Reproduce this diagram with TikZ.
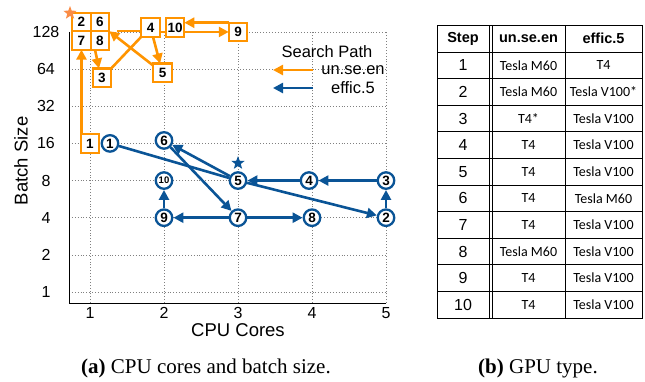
\documentclass[tikz,border=0pt]{standalone}
\usepackage{fontspec}
\setmainfont{Liberation Serif}
\setsansfont{Liberation Sans}
\newfontfamily\gpufont{Carlito}
\usetikzlibrary{arrows.meta,positioning,calc,shapes.geometric}
\definecolor{searchorange}{RGB}{255,148,0}
\definecolor{searchblue}{RGB}{10,84,150}
\definecolor{starorange}{RGB}{250,140,70}
\newcommand{\pxfont}[1]{\fontsize{#1bp}{#1bp}\selectfont}

\begin{document}
\begin{tikzpicture}[
  x=1bp, y=-1bp,
  font=\sffamily,
  gridline/.style={draw=gray, line width=0.7bp, dash pattern=on 0.9bp off 2bp},
  axisline/.style={draw=black, line width=0.9bp},
  ticklabel/.style={font=\sffamily\pxfont{16}},
  axislabel/.style={font=\sffamily\pxfont{18.5}},
  obox/.style={draw=searchorange, line width=2.3bp, fill=white, minimum size=18.5bp,
    inner sep=0pt, outer sep=0pt, font=\sffamily\bfseries\pxfont{13.5}},
  bnode/.style={circle, draw=searchblue, line width=2.3bp, fill=white, minimum size=16.5bp,
    inner sep=0pt, font=\sffamily\bfseries\pxfont{13.5}},
  opath/.style={draw=searchorange, line width=2.6bp},
  oarrow/.style={opath, -{Triangle[length=10bp, width=10bp]}},
  bpath/.style={draw=searchblue, line width=2.6bp},
  barrow/.style={bpath, -{Triangle[length=10bp, width=10bp]}},
  beststar/.style={star, star points=5, star point ratio=2.4, minimum size=14bp, inner sep=0pt},
  legendtext/.style={font=\sffamily\pxfont{16.5}},
  tablerule/.style={draw=black, line width=0.9bp},
  headcell/.style={font=\sffamily\bfseries\pxfont{14.5}},
  stepcell/.style={font=\sffamily\pxfont{16}},
  gpucell/.style={font=\gpufont\pxfont{14}},
  captiontext/.style={font=\rmfamily\pxfont{21}, anchor=base}
]
\useasboundingbox (0,0) rectangle (645,381);

% (a) search paths over cores and batch size
\begin{scope}[shift={(16,292)}, x=74bp, y=37.15bp]
\foreach \c in {1,...,5}
  \draw[gridline] (\c,-0.296) -- (\c,7);
\foreach \v in {0,...,7}
  \draw[gridline] (0.716,\v) -- (5,\v);
\draw[axisline] (0.716,7) -- (0.716,-0.296) -- (5,-0.296);

\foreach \c in {1,...,5}
  \node[ticklabel] (xtick\c) at (\c,-0.565) {\c};
\foreach \v/\lab in {0/1,1/2,2/4,3/8,4/16,5/32,6/64,7/128}
  \node[ticklabel] (ytick\v) at (0.405,\v) {\lab};
\node[axislabel] (xlabel) at (3,-1.02) {CPU Cores};
\node[axislabel, rotate=90] (ylabel) at (0.068,3.53) {Batch Size};

% un.se.en
\node[obox] (un2) at (0.885,7.27) {2};
\node[obox, right=0bp of un2] (un6) {6};
\node[obox, below=0bp of un2] (un7) {7};
\node[obox, below=0bp of un6] (un8) {8};
\node[obox] (un1) at (1,4) {1};
\node[obox] (un3) at (1.162,5.77) {3};
\node[obox] (un4) at (1.818,7.12) {4};
\node[obox, right=6bp of un4] (un10) {10};
\node[obox] (un5) at (1.98,5.9) {5};
\node[obox] (un9) at (3,7) {9};
\node[beststar, fill=starorange] (unstar) at (0.73,7.51) {};

% effic.5
\node[bnode] (ef1) at (1.27,4) {1};
\node[bnode] (ef2) at (5,2) {2};
\node[bnode] (ef3) at (5,3) {3};
\node[bnode] (ef4) at (3.96,3) {4};
\node[bnode] (ef5) at (3,3) {5};
\node[bnode] (ef6) at (2,4.08) {6};
\node[bnode] (ef7) at (3,2) {7};
\node[bnode] (ef8) at (4,2) {8};
\node[bnode] (ef9) at (2,2) {9};
\node[bnode, font=\sffamily\bfseries\pxfont{9.5}] (ef10) at (2,3) {10};
\node[beststar, fill=searchblue] (efstar) at (3,3.47) {};
\end{scope}

\draw[oarrow] (un7.south |- un1.north) -- (un7.south);
\draw[oarrow] ([xshift=-5bp]un8.south) -- ([xshift=-3bp]un3.north);
\draw[opath] (un3.north east) -- (un4.south west);
\draw[oarrow] (un4) -- (un5);
\draw[oarrow] (un5) -- (un6.south east);
\draw[opath] ([xshift=8bp]un6.south east) -- (un4.west |- un6.south east);
\draw[opath] (un4.east |- un9.west) -- (un10.west |- un9.west);
\draw[oarrow] (un10.east |- un9.west) -- (un9.west);
\draw[oarrow] (un9.north west) -- (un10.east |- un9.north west);

\draw[bpath] (ef1) -- (ef5);
\draw[barrow] (ef5) -- (ef2);
\draw[barrow] (ef2) -- (ef3);
\draw[barrow] (ef3) -- (ef4);
\draw[barrow] (ef4) -- (ef5);
\draw[barrow] (ef5) -- (ef6);
\draw[barrow] (ef6) -- (ef7);
\draw[barrow] (ef7) -- (ef8);
\draw[barrow] (ef7) -- (ef9);
\draw[barrow] (ef9) -- (ef10);

% legend
\node[legendtext] (legtitle) at (327,52) {Search Path};
\node[legendtext] (legun) at (353,70) {un.se.en};
\node[legendtext] (legef) at (353,88) {effic.5};
\coordinate (legunstart) at (313,70);
\coordinate (legunend) at (273,70);
\coordinate (legefstart) at (313,88);
\coordinate (legefend) at (273,88);
\draw[oarrow] (legunstart) -- (legunend);
\draw[barrow] (legefstart) -- (legefend);

% (b) GPU type table
\draw[tablerule] (437,25) rectangle (642,318);
\foreach \k in {0,...,9}
  \draw[tablerule] (437,{52+26.6*\k}) -- (642,{52+26.6*\k});
\draw[tablerule] (489,25) -- (489,318);
\draw[tablerule] (492,25) -- (492,318);
\draw[tablerule] (565,25) -- (565,318);

\node[headcell] (hstep) at (463,38.5) {Step};
\node[headcell] (hun) at (528.5,38.5) {un.se.en};
\node[headcell] (hef) at (603.5,38.5) {effic.5};
\foreach \k/\gpuA/\gpuB in {1/Tesla M60/T4, 2/Tesla M60/Tesla V100*, 3/T4*/Tesla V100,
    4/T4/Tesla V100, 5/T4/Tesla V100, 6/T4/Tesla M60, 7/T4/Tesla V100,
    8/Tesla M60/Tesla V100, 9/T4/Tesla V100, 10/T4/Tesla V100} {
  \node[stepcell] (step\k) at (463,{38.7+26.6*\k}) {\k};
  \node[gpucell] (gpuun\k) at (528.5,{38.7+26.6*\k}) {\gpuA};
  \node[gpucell] (gpuef\k) at (603.5,{38.7+26.6*\k}) {\gpuB};
}

% captions
\node[captiontext] (capa) at (206,373) {\textbf{(a)} CPU cores and batch size.};
\node[captiontext] (capb) at (538,373) {\textbf{(b)} GPU type.};

\end{tikzpicture}
\end{document}
